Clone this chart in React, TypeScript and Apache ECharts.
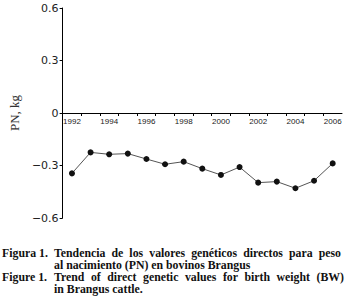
import React, { useEffect, useRef } from "react";
import * as echarts from "echarts";

const years = ["1992","1993","1994","1995","1996","1997","1998","1999","2000","2001","2002","2003","2004","2005","2006"];
const pnValues = [-0.345,-0.225,-0.236,-0.232,-0.263,-0.293,-0.278,-0.318,-0.354,-0.309,-0.398,-0.392,-0.430,-0.387,-0.288];
const yTicks = { min: -0.6, max: 0.6, interval: 0.3 };
const yName = "PN, kg";
const captionLines = [
  { label: "Figura 1.", text: "Tendencia de los valores genéticos directos para peso", justify: true },
  { label: "", text: "al nacimiento (PN) en bovinos Brangus", justify: false },
  { label: "Figure 1.", text: "Trend of direct genetic values for birth weight (BW)", justify: true },
  { label: "", text: "in Brangus cattle.", justify: false },
];

export default function App() {
  const ref = useRef<HTMLDivElement>(null);
  useEffect(() => {
    if (!ref.current) return;
    const chart = echarts.init(ref.current, undefined, { renderer: "svg" });
    const fontSize = 11.8;
    const fontFamily = "Liberation Serif";
    const captionFont = { fontFamily, fontWeight: "bold", fontSize, fill: "#111", verticalAlign: "middle" };
    const canvas = document.createElement("canvas");
    const ctx = canvas.getContext("2d")!;
    ctx.font = `bold ${fontSize}px "${fontFamily}"`;
    const graphics: any[] = [];
    const baselines = [257, 269, 281, 293];
    const textLeft = 54;
    const lineRights = [341, 0, 344, 0];
    captionLines.forEach((l, i) => {
      const y = baselines[i] - 3.8;
      if (l.label) {
        graphics.push({ type: "text", x: 2, y, style: { text: l.label, ...captionFont } });
      }
      if (l.justify) {
        const words = l.text.split(" ");
        const widths = words.map((w) => ctx.measureText(w).width);
        const total = widths.reduce((a, b) => a + b, 0);
        const gap = (lineRights[i] - textLeft - total) / (words.length - 1);
        let x = textLeft;
        words.forEach((w, k) => {
          graphics.push({ type: "text", x, y, style: { text: w, ...captionFont } });
          x += widths[k] + gap;
        });
      } else {
        graphics.push({ type: "text", x: textLeft, y, style: { text: l.text, ...captionFont } });
      }
    });
    const gridTop = 8;
    const gridBottom = 90;
    const gridH = 308 - gridTop - gridBottom;
    chart.setOption({
      animation: false,
      backgroundColor: "#fff",
      grid: { left: 39, right: 5, top: gridTop, bottom: gridBottom, containLabel: false },
      xAxis: {
        type: "category",
        data: years,
        boundaryGap: true,
        position: "bottom",
        offset: -gridH / 2,
        axisLine: { onZero: false, lineStyle: { color: "#000", width: 1 } },
        axisTick: { show: true, interval: 0, length: 3, lineStyle: { color: "#000" } },
        axisLabel: { interval: 1, margin: 4, fontSize: 8, fontFamily: "Liberation Sans", color: "#222" },
        splitLine: { show: false },
      },
      yAxis: {
        type: "value",
        min: yTicks.min,
        max: yTicks.max,
        interval: yTicks.interval,
        name: yName,
        nameLocation: "middle",
        nameGap: 30,
        nameTextStyle: { fontFamily: "Liberation Serif", fontSize: 13, color: "#333" },
        axisLine: { show: true, lineStyle: { color: "#000", width: 1 } },
        axisTick: { show: true, length: 3, lineStyle: { color: "#000" } },
        axisLabel: {
          margin: 4,
          fontSize: 11,
          fontFamily: "DejaVu Sans",
          color: "#222",
          formatter: (v: number) => (Math.abs(v) < 1e-9 ? "0" : v.toFixed(1).replace("-", "\u2212")),
        },
        splitLine: { show: false },
      },
      series: [
        {
          type: "line",
          data: pnValues,
          symbol: "circle",
          symbolSize: 6,
          itemStyle: { color: "#111" },
          lineStyle: { color: "#555", width: 1 },
        },
      ],
      graphic: graphics,
    });
    return () => chart.dispose();
  }, []);
  return (
    <div
      ref={ref}
      style={{ position: "fixed", left: 0, top: 0, width: 347, height: 308, background: "#fff" }}
    />
  );
}
